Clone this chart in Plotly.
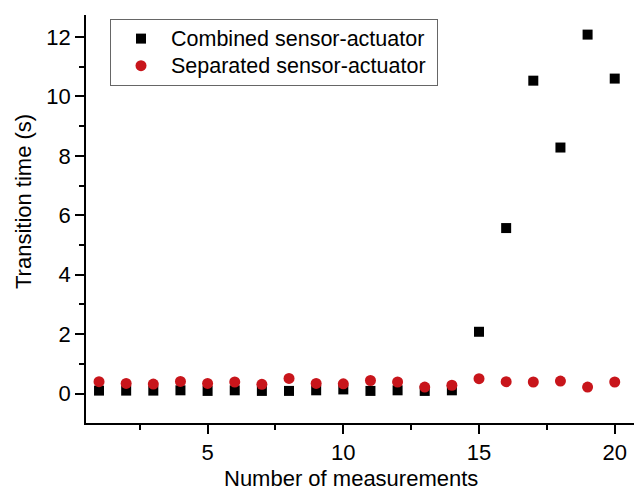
import plotly.graph_objects as go

# Measurement index
measurements = list(range(1, 21))

# Transition times (s)
combined = [0.10, 0.10, 0.10, 0.11, 0.09, 0.11, 0.09, 0.09, 0.11, 0.14,
            0.09, 0.11, 0.09, 0.11, 2.08, 5.57, 10.53, 8.28, 12.08, 10.60]
separated = [0.40, 0.34, 0.32, 0.41, 0.34, 0.39, 0.31, 0.51, 0.34, 0.33,
             0.44, 0.39, 0.22, 0.28, 0.50, 0.40, 0.39, 0.42, 0.22, 0.39]

series_names = ["Combined sensor-actuator", "Separated sensor-actuator"]
x_title = "Number of measurements"
y_title = "Transition time (s)"

FONT = "Liberation Sans, Arial, sans-serif"
RED = "#C8151B"


def legend_label(text):
    # larger glyphs than the legend's base font, keeping rows compact
    return f"<span style='font-size:21.5px'>{text}&nbsp;</span>"


fig = go.Figure()
fig.add_trace(go.Scatter(
    x=measurements, y=combined, mode="markers",
    name=legend_label(series_names[0]),
    marker=dict(symbol="square", size=10, color="black"),
))
fig.add_trace(go.Scatter(
    x=measurements, y=separated, mode="markers",
    name=legend_label(series_names[1]),
    marker=dict(symbol="circle", size=11, color=RED),
))

axis_common = dict(
    showline=True, linecolor="black", linewidth=1.6,
    ticks="outside", ticklen=9, tickwidth=1.6, tickcolor="black",
    showgrid=False, zeroline=False, mirror=False,
    tickfont=dict(family=FONT, size=22, color="black"),
)

fig.update_xaxes(
    range=[0.52, 20.71], tick0=0, dtick=5,
    minor=dict(ticks="outside", ticklen=5, tickwidth=1.6, tickcolor="black",
               tick0=0, dtick=2.5, showgrid=False),
    **axis_common,
)
fig.update_yaxes(
    range=[-0.99, 12.74], tick0=0, dtick=2,
    minor=dict(ticks="outside", ticklen=5, tickwidth=1.6, tickcolor="black",
               tick0=0, dtick=1, showgrid=False),
    **axis_common,
)

fig.update_layout(
    width=634, height=491,
    margin=dict(l=86, r=0, t=15, b=68),
    paper_bgcolor="white", plot_bgcolor="white",
    font=dict(family=FONT, size=22, color="black"),
    showlegend=True,
    legend=dict(
        x=0.0438, y=0.990, xanchor="left", yanchor="top",
        bgcolor="white", bordercolor="#666666", borderwidth=1,
        font=dict(family=FONT, size=18.5, color="black"),
        itemwidth=50, tracegroupgap=0,
    ),
    annotations=[
        dict(text=x_title, xref="paper", yref="paper", x=0.4836, y=0,
             xanchor="center", yanchor="top", yshift=-41, showarrow=False,
             font=dict(family=FONT, size=22, color="black")),
        dict(text=y_title, xref="paper", yref="paper", x=-0.115, y=0.544,
             xanchor="center", yanchor="middle", textangle=-90, showarrow=False,
             font=dict(family=FONT, size=22, color="black")),
    ],
)

fig.write_html("out.html")
